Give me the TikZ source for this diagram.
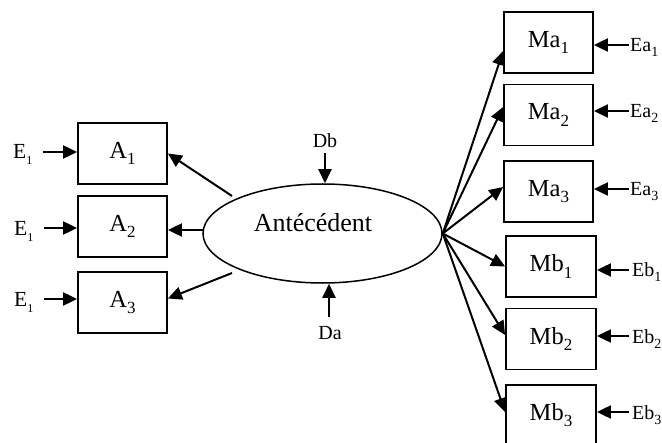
\documentclass[tikz,border=0pt]{standalone}
\usepackage{fontspec}
\setmainfont{Liberation Serif}
\usetikzlibrary{arrows.meta,shapes.geometric,calc}
\newcommand\lsub[2]{\raisebox{-0.25em}{\fontsize{#1}{#1}\selectfont #2}}
\tikzset{
  box/.style={draw,line width=1.8bp,minimum height=61bp,inner sep=0,font=\fontsize{24.5bp}{28bp}\selectfont},
  abox/.style={box,minimum width=89bp},
  bbox/.style={box,minimum width=90bp},
  arr/.style={line width=2bp,-{Triangle[length=14bp,width=13bp]}},
  elab/.style={inner sep=0,anchor=base west,font=\fontsize{21.5bp}{25bp}\selectfont},
  rlab/.style={inner sep=0,anchor=base west,font=\fontsize{20bp}{24bp}\selectfont},
  dlab/.style={inner sep=0,anchor=base,font=\fontsize{20bp}{24bp}\selectfont},
}
\begin{document}
\begin{tikzpicture}[x=1bp,y=-1bp]
\useasboundingbox (0,0) rectangle (662,443);
% left boxes
\node[abox] (a1) at (122.5,153.5) {A\lsub{17bp}{1}};
\node[abox] (a2) at (122.5,226.5) {A\lsub{17bp}{2}};
\node[abox] (a3) at (122.5,302.5) {A\lsub{17bp}{3}};
% right boxes
\node[abox] (ma1) at (548.5,42.5) {Ma\lsub{17bp}{1}};
\node[abox] (ma2) at (548.5,115) {Ma\lsub{17bp}{2}};
\node[abox] (ma3) at (548.5,191.5) {Ma\lsub{17bp}{3}};
\node[bbox] (mb1) at (551,266.5) {Mb\lsub{17bp}{1}};
\node[bbox] (mb2) at (551,339) {Mb\lsub{17bp}{2}};
\node[bbox] (mb3) at (551,415.5) {Mb\lsub{17bp}{3}};
% ellipse
\node[draw,ellipse,line width=1.5bp,minimum width=239bp,minimum height=99bp,inner sep=0] (ant) at (322.5,233.5) {};
\node[anchor=base,inner sep=0,font=\fontsize{26bp}{30bp}\selectfont] (anttxt) at (313,232) {Antécédent};
% disturbance labels
\node[dlab] (db) at (325,148) {Db};
\node[dlab] (da) at (330,339) {Da};
\coordinate (dbt) at (325,153);
\coordinate (dat) at (329,317);
\draw[arr] (dbt) -- (dbt |- ant.north);
\draw[arr] (dat) -- (dat |- ant.south);
% left error labels
\node[elab] (e1) at (13,159) {E\lsub{12bp}{1}};
\node[elab] (e2) at (14,236) {E\lsub{12bp}{1}};
\node[elab] (e3) at (14,307) {E\lsub{12bp}{1}};
\coordinate (e1t) at (43,152);
\coordinate (e2t) at (44,228);
\coordinate (e3t) at (44,299);
\draw[arr] (e1t) -- (e1t -| a1.west);
\draw[arr] (e2t) -- (e2t -| a2.west);
\draw[arr] (e3t) -- (e3t -| a3.west);
% right error labels
\node[rlab] (ea1) at (630,52) {Ea\lsub{14bp}{1}};
\node[rlab] (ea2) at (630,118) {Ea\lsub{14bp}{2}};
\node[rlab] (ea3) at (630,196) {Ea\lsub{14bp}{3}};
\node[rlab] (eb1) at (632,277) {Eb\lsub{14bp}{1}};
\node[rlab] (eb2) at (632,343) {Eb\lsub{14bp}{2}};
\node[rlab] (eb3) at (632,419) {Eb\lsub{14bp}{3}};
\coordinate (ea1t) at (629,45);
\coordinate (ea2t) at (629,111);
\coordinate (ea3t) at (629,189);
\coordinate (eb1t) at (629,270);
\coordinate (eb2t) at (629,336);
\coordinate (eb3t) at (629,412);
\draw[arr] (ea1t) -- (ea1t -| ma1.east);
\draw[arr] (ea2t) -- (ea2t -| ma2.east);
\draw[arr] (ea3t) -- (ea3t -| ma3.east);
\draw[arr] (eb1t) -- (eb1t -| mb1.east);
\draw[arr] (eb2t) -- (eb2t -| mb2.east);
\draw[arr] (eb3t) -- (eb3t -| mb3.east);
% ellipse to left boxes
\coordinate (ls1) at (232,196);
\coordinate (ls2) at (203,230);
\coordinate (ls3) at (232,273);
\draw[arr] (ls1) -- (a1.east);
\draw[arr] (ls2) -- (ls2 -| a2.east);
\draw[arr] (ls3) -- ([yshift=4bp]a3.east);
% ellipse to right boxes
\draw[arr] (ant.east) -- ([yshift=-8.5bp]ma1.west);
\draw[arr] (ant.east) -- ([yshift=8bp]ma2.west);
\draw[arr] (ant.east) -- ([yshift=4.5bp]ma3.west);
\draw[arr] (ant.east) -- (mb1.west);
\draw[arr] (ant.east) -- ([yshift=4bp]mb2.west);
\draw[arr] (ant.east) -- ([yshift=3.5bp]mb3.west);
\end{tikzpicture}
\end{document}
